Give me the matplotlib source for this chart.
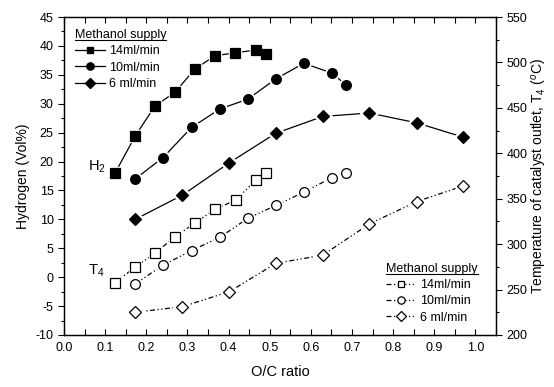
import numpy as np
import matplotlib.pyplot as plt
from matplotlib.ticker import MultipleLocator
from matplotlib.lines import Line2D

plt.rcParams['font.family'] = ['Liberation Sans', 'DejaVu Sans']
plt.rcParams['mathtext.fontset'] = 'custom'
plt.rcParams['mathtext.rm'] = 'Liberation Sans'
plt.rcParams['mathtext.it'] = 'Liberation Sans:italic'
plt.rcParams['axes.unicode_minus'] = False

# Hydrogen concentration (Vol%), left axis
oc_h2_14 = [0.124, 0.173, 0.221, 0.270, 0.318, 0.367, 0.416, 0.466, 0.490]
h2_14 = [18.0, 24.4, 29.6, 32.0, 36.0, 38.3, 38.8, 39.3, 38.6]

oc_h2_10 = [0.173, 0.241, 0.310, 0.379, 0.447, 0.515, 0.583, 0.651, 0.685]
h2_10 = [17.0, 20.7, 25.9, 29.1, 30.8, 34.3, 37.0, 35.3, 33.3]

oc_h2_6 = [0.173, 0.288, 0.402, 0.515, 0.629, 0.742, 0.857, 0.971]
h2_6 = [10.0, 14.2, 19.8, 24.9, 27.8, 28.4, 26.7, 24.2]

# Catalyst outlet temperature T4 (deg C), right axis
oc_t_14 = [0.124, 0.173, 0.221, 0.270, 0.318, 0.367, 0.417, 0.467, 0.490]
t_14 = [257.6, 274.8, 289.9, 308.2, 323.2, 338.3, 348.5, 370.5, 378.0]

oc_t_10 = [0.173, 0.241, 0.310, 0.379, 0.447, 0.515, 0.583, 0.651, 0.685]
t_10 = [256.1, 277.0, 292.9, 307.6, 328.5, 342.6, 357.2, 373.2, 378.8]

oc_t_6 = [0.173, 0.288, 0.402, 0.515, 0.629, 0.742, 0.857, 0.971]
t_6 = [225.0, 231.2, 247.7, 278.9, 287.9, 322.2, 346.8, 364.2]

labels = ['14ml/min', '10ml/min', '6 ml/min']
markers = [('s', 6.5), ('o', 7), ('D', 6.5)]

fig = plt.figure(figsize=(5.54, 3.87), dpi=100)
ax = fig.add_axes([0.1155, 0.1344, 0.7798, 0.8216])
ax2 = ax.twinx()

dashdotdot = (0, (4, 2, 1, 2, 1, 2))


def draw_series(a, x, y, marker, ms, ls, face):
    # line first, then a white halo so the line stops short of each marker
    a.plot(x, y, color='black', lw=0.9, linestyle=ls, zorder=2)
    a.plot(x, y, ls='none', marker=marker, ms=ms + 2.5, mfc='white',
           mec='white', zorder=3)
    a.plot(x, y, ls='none', marker=marker, ms=ms, mfc=face, mec='black',
           mew=0.9, zorder=4)


h_data = [(oc_h2_14, h2_14), (oc_h2_10, h2_10), (oc_h2_6, h2_6)]
t_data = [(oc_t_14, t_14), (oc_t_10, t_10), (oc_t_6, t_6)]

h_handles, t_handles = [], []
for (x, y), (m, ms), lab in zip(h_data, markers, labels):
    draw_series(ax, x, y, m, ms, '-', 'black')
    h_handles.append(Line2D([], [], color='black', lw=0.9, marker=m,
                            ms=ms * 0.75, mfc='black', mec='black', label=lab))
for (x, y), (m, ms), lab in zip(t_data, markers, labels):
    draw_series(ax2, x, y, m, ms, dashdotdot, 'white')
    t_handles.append(Line2D([], [], color='black', lw=0.9, ls=dashdotdot,
                            marker=m, ms=ms * 0.75, mfc='white', mec='black',
                            mew=0.9, label=lab))

ax.set_xlim(0.0, 1.05)
ax.set_ylim(-10, 45)
ax2.set_ylim(200, 550)

ax.set_xticks(np.arange(0, 1.01, 0.1))
ax.xaxis.set_minor_locator(MultipleLocator(0.05))
ax.xaxis.set_major_formatter(plt.FormatStrFormatter('%.1f'))
ax.yaxis.set_major_locator(MultipleLocator(5))
ax.yaxis.set_minor_locator(MultipleLocator(2.5))
ax2.yaxis.set_major_locator(MultipleLocator(50))
ax2.yaxis.set_minor_locator(MultipleLocator(25))

ax.tick_params(axis='x', which='both', direction='in', top=True,
               length=4, width=0.8, labelsize=9, pad=5)
ax.tick_params(axis='y', which='major', direction='out', length=4,
               width=0.8, labelsize=9)
ax.tick_params(axis='y', which='minor', direction='out', length=2.5, width=0.8)
ax2.tick_params(axis='y', which='major', direction='out', length=4,
                width=0.8, labelsize=9)
ax2.tick_params(axis='y', which='minor', direction='out', length=2.5, width=0.8)

for a in (ax, ax2):
    for s in a.spines.values():
        s.set_linewidth(0.9)

ax.set_xlabel('O/C ratio', fontsize=10.5, labelpad=8)
ax.set_ylabel('Hydrogen (Vol%)', fontsize=10)
ax2.set_ylabel(r'Temperature of catalyst outlet, T$_4$ ($^o$C)', fontsize=10,
               labelpad=2)

title = 'Methanol supply'
leg1 = ax.legend(handles=h_handles, loc='upper left', frameon=False,
                 title=title, title_fontsize=9, fontsize=9, numpoints=1,
                 handlelength=2.4, handletextpad=0.3, labelspacing=0.35,
                 borderaxespad=0.3, bbox_to_anchor=(0.005, 0.99))
leg1._legend_box.align = 'left'

leg2 = ax2.legend(handles=t_handles, loc='lower left', frameon=False,
                  title=title, title_fontsize=9, fontsize=9, numpoints=1,
                  handlelength=2.4, handletextpad=0.3, labelspacing=0.35,
                  bbox_to_anchor=(0.72, 0.0))
leg2._legend_box.align = 'left'

ax.text(0.058, 19.1, r'H$_2$', fontsize=10.5, va='center')
ax.text(0.058, 1.1, r'T$_4$', fontsize=10.5, va='center')

# underline the legend titles
fig.canvas.draw()
inv = fig.transFigure.inverted()
for leg in (leg1, leg2):
    bb = leg.get_title().get_window_extent().transformed(inv)
    fig.add_artist(Line2D([bb.x0, bb.x1], [bb.y0 + 0.002, bb.y0 + 0.002],
                          transform=fig.transFigure, color='black', lw=0.8))

fig.savefig('out.png', dpi=100)
